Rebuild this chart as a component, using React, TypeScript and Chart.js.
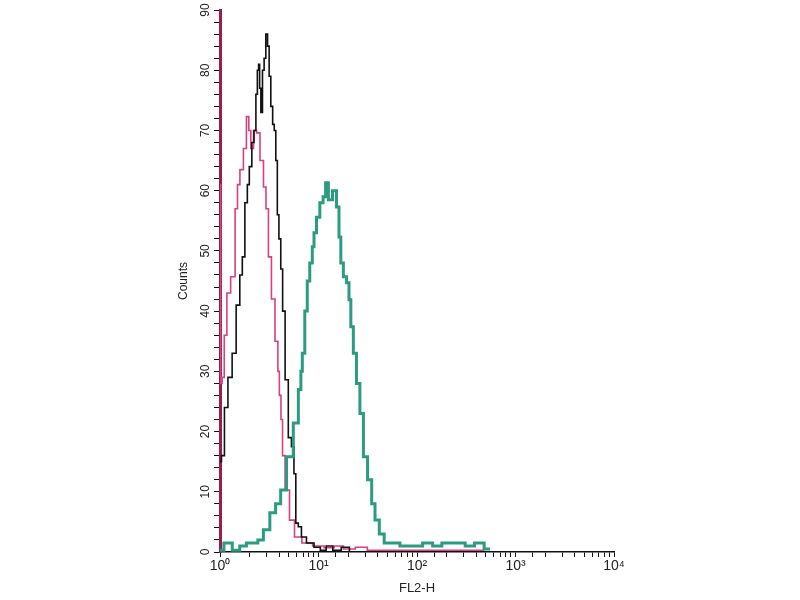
import { useEffect, useRef } from "react"
import { Chart, registerables } from "chart.js"

Chart.register(...registerables)

// black histogram (FL2-H channel / counts)
const blackFl2 = [1.0, 1.07, 1.15, 1.26, 1.4, 1.52, 1.66, 1.71, 1.87, 1.92, 2.05, 2.16, 2.27, 2.36, 2.43, 2.5, 2.55, 2.65, 2.75, 2.86, 2.98, 3.1, 3.21, 3.35, 3.5, 3.61, 3.76, 3.88, 4.05, 4.23, 4.42, 4.75, 5.13, 5.5, 5.77, 6.0, 6.48, 6.95, 8.2, 9.9, 11, 13, 15, 19.3, 22, 30]
const blackCounts = [15, 16, 24, 29, 33, 41, 46, 49, 58, 61, 64, 68, 70, 76, 80, 81, 77, 73, 80, 82, 86, 84, 79, 74, 71, 70, 65, 56, 52, 47, 40, 28.6, 19, 17.5, 13, 4.8, 4.2, 2.5, 1.5, 0.8, 0.3, 1, 0.3, 0.8, 0, 0]

// pink histogram
const pinkFl2 = [1.0, 1.03, 1.07, 1.14, 1.21, 1.36, 1.49, 1.52, 1.67, 1.79, 1.92, 2.0, 2.11, 2.27, 2.43, 2.67, 2.86, 3.0, 3.21, 3.45, 3.79, 3.95, 4.06, 4.26, 4.37, 4.79, 5.38, 6.05, 7.6, 10, 13, 16, 20, 28, 35, 480]
const pinkCounts = [61, 28, 29, 36, 43, 45.7, 57, 61, 63.5, 67, 72.3, 70, 67, 70, 69.6, 65, 60.6, 57, 49, 42, 35, 30, 26, 22, 16, 10.3, 5.3, 2.5, 1.5, 1, 0.7, 1, 0.5, 0.8, 0.3, 0.3]

// teal histogram
const tealFl2 = [1.0, 1.2, 1.48, 1.7, 2.02, 2.3, 2.55, 2.98, 3.45, 3.9, 4.37, 5.13, 6.0, 6.5, 6.75, 6.95, 7.58, 7.8, 8.52, 8.78, 9.23, 9.87, 10.78, 11.5, 12.12, 13.1, 14.7, 15.8, 16.5, 17.2, 18.6, 20.0, 20.8, 21.8, 23.4, 25.2, 27.5, 29.7, 33.4, 36, 39, 44, 49, 60, 75, 100, 130, 160, 200, 272, 350, 420, 550]
const tealCounts = [0.3, 1.5, 0.3, 1, 1.5, 1.5, 2, 3.7, 6.5, 8, 10.3, 15.8, 21.4, 27, 30, 33, 40, 45, 48, 50.7, 53, 55.6, 58, 59, 61.3, 58.5, 60, 57.3, 52.3, 48, 45.7, 44.7, 41.9, 37.4, 33, 28, 23, 15.8, 12, 8, 5.3, 3, 1.5, 1.5, 1, 1, 1.5, 1, 1.5, 1.5, 1, 1.5, 0.5]

const xTickLabels = ["10\u2070", "10\u00b9", "10\u00b2", "10\u00b3", "10\u2074"]
const yMax = 90

const toPoints = (xs: number[], ys: number[]) => xs.map((x, i) => ({ x, y: ys[i] }))

function FlowHistogram() {
    const canvasRef = useRef<HTMLCanvasElement>(null)

    useEffect(() => {
        const font = { family: "'Liberation Sans', Arial, sans-serif", size: 12 }
        const chart = new Chart(canvasRef.current!, {
            type: "line",
            data: {
                datasets: [
                    {
                        data: toPoints(tealFl2, tealCounts),
                        borderColor: "#2b9c82",
                        borderWidth: 3,
                        pointRadius: 0,
                        stepped: "middle",
                        fill: false
                    },
                    {
                        data: toPoints(blackFl2, blackCounts),
                        borderColor: "#111111",
                        borderWidth: 1.6,
                        pointRadius: 0,
                        stepped: "middle",
                        fill: false
                    },
                    {
                        data: toPoints(pinkFl2, pinkCounts),
                        borderColor: "#d8407f",
                        borderWidth: 1.6,
                        pointRadius: 0,
                        stepped: "middle",
                        fill: false
                    }
                ]
            },
            options: {
                animation: false,
                responsive: true,
                maintainAspectRatio: false,
                layout: { padding: { left: 172, right: 186, top: 10, bottom: 0 } },
                plugins: { legend: { display: false }, tooltip: { enabled: false } },
                scales: {
                    x: {
                        type: "logarithmic",
                        min: 1,
                        max: 10000,
                        border: { color: "#111111", width: 1.5 },
                        grid: { drawOnChartArea: false, tickLength: 5, color: "#111111" },
                        ticks: {
                            autoSkip: false,
                            maxRotation: 0,
                            padding: 1,
                            color: "#222222",
                            font: { ...font, size: 14 },
                            callback: (v) => {
                                const e = Math.log10(Number(v))
                                return Math.abs(e - Math.round(e)) < 1e-9 ? xTickLabels[Math.round(e)] : ""
                            }
                        },
                        title: { display: true, text: "FL2-H", color: "#222222", font: { ...font, size: 13 } },
                        afterFit: (s) => { s.height = 48 }
                    },
                    y: {
                        min: 0,
                        max: yMax,
                        border: { color: "#9c1c52", width: 3 },
                        grid: { drawOnChartArea: false, tickLength: 6, color: "#111111" },
                        ticks: {
                            stepSize: 2,
                            autoSkip: false,
                            minRotation: 90,
                            maxRotation: 90,
                            crossAlign: "center",
                            padding: 2,
                            color: "#222222",
                            font,
                            callback: (v) => (Number(v) % 10 === 0 ? String(v) : "")
                        },
                        title: { display: true, text: "Counts", color: "#222222", font },
                        afterFit: (s) => { s.width = 48 }
                    }
                }
            }
        })
        return () => chart.destroy()
    }, [])

    return (
        <div style={{ position: "fixed", left: 0, top: 0, width: 800, height: 600, background: "#fff" }}>
            <canvas ref={canvasRef}></canvas>
        </div>
    )
}

export default function App() {
    return <FlowHistogram />
}
